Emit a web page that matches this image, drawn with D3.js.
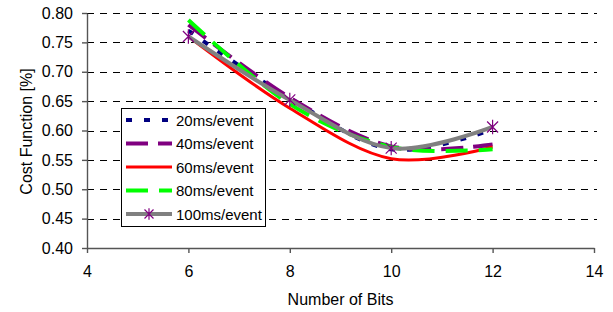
<!DOCTYPE html>
<meta charset="utf-8">
<head>
<style>
body { margin: 0; background: #fff; }
text { font: 16px "Liberation Sans", Arial, sans-serif; fill: #000; }
.grid line { stroke: #000; stroke-width: 1; stroke-dasharray: 7,6; }
.axis path, .axis line { stroke: #555; stroke-width: 1.4; }
.legend text { font-size: 15px; }
</style>
<script src="https://d3js.org/d3.v7.min.js"></script>
</head>
<body>
<svg width="613" height="312"></svg>
<script>

// chart values
var bits = [6, 8, 10, 12];
var seriesNames = ["20ms/event", "40ms/event", "60ms/event", "80ms/event", "100ms/event"];
var cost20 = [0.770, 0.655, 0.568, 0.602];
var cost40 = [0.780, 0.656, 0.573, 0.576];
var cost60 = [0.760, 0.638, 0.552, 0.572];
var cost80 = [0.788, 0.645, 0.572, 0.568];
var cost100 = [0.760, 0.652, 0.570, 0.606];
var xTicks = [4, 6, 8, 10, 12, 14];
var yTicks = [0.40, 0.45, 0.50, 0.55, 0.60, 0.65, 0.70, 0.75, 0.80];

var styles = [
  { color: "#000080", width: 4, dash: "6,12", marker: false },
  { color: "#800080", width: 4, dash: "22,10", marker: false },
  { color: "#ff0000", width: 3, dash: null, marker: false },
  { color: "#00ff00", width: 4, dash: "22,11", marker: false },
  { color: "#808080", width: 4, dash: null, marker: true }
];
var allValues = [cost20, cost40, cost60, cost80, cost100];
var series = seriesNames.map(function(n, i) {
  return { name: n, values: allValues[i], style: styles[i] };
});

var svg = d3.select("svg");
var x = d3.scaleLinear().domain([4, 14]).range([87, 594]);
var y = d3.scaleLinear().domain([0.40, 0.80]).range([248, 13]);

// horizontal dashed gridlines
svg.append("g").attr("class", "grid")
  .selectAll("line")
  .data(yTicks.slice(1))
  .enter().append("line")
    .attr("x1", x(4)).attr("x2", x(14) + 3)
    .attr("y1", function(d) { return Math.round(y(d)) + 0.5; })
    .attr("y2", function(d) { return Math.round(y(d)) + 0.5; });

var xAxis = svg.append("g").attr("class", "axis")
  .attr("transform", "translate(0," + y(0.40) + ")")
  .call(d3.axisBottom(x).tickValues(xTicks).tickSizeInner(5).tickSizeOuter(0).tickPadding(13)
    .tickFormat(d3.format("d")));
xAxis.selectAll("text").style("font-size", "16px").attr("fill", "#000");

var yAxis = svg.append("g").attr("class", "axis")
  .attr("transform", "translate(" + x(4) + ",0)")
  .call(d3.axisLeft(y).tickValues(yTicks).tickSizeInner(5).tickSizeOuter(0).tickPadding(9)
    .tickFormat(d3.format(".2f")));
yAxis.selectAll("text").style("font-size", "16px").attr("fill", "#000");

svg.append("text")
  .attr("x", (x(4) + x(14)) / 2 + 0).attr("y", 305)
  .attr("text-anchor", "middle")
  .text("Number of Bits");

svg.append("text")
  .attr("transform", "translate(32," + (y(0.60) + 1) + ") rotate(-90)")
  .attr("text-anchor", "middle")
  .text("Cost Function [%]");

var line = d3.line()
  .x(function(d, i) { return x(bits[i]); })
  .y(function(d) { return y(d); })
  .curve(d3.curveCardinal.tension(0));

svg.append("g").selectAll("path")
  .data(series)
  .enter().append("path")
    .attr("d", function(d) { return line(d.values); })
    .attr("fill", "none")
    .attr("stroke", function(d) { return d.style.color; })
    .attr("stroke-width", function(d) { return d.style.width; })
    .attr("stroke-dasharray", function(d) { return d.style.dash; });

// asterisk marker (x plus vertical bar)
function asterisk(r) {
  return "M" + (-r) + "," + (-r) + "L" + r + "," + r +
         "M" + (-r) + "," + r + "L" + r + "," + (-r) +
         "M0," + (-r * 1.3) + "L0," + (r * 1.3);
}

var marked = series.filter(function(d) { return d.style.marker; })[0];
svg.append("g").selectAll("path")
  .data(marked.values)
  .enter().append("path")
    .attr("transform", function(d, i) { return "translate(" + x(bits[i]) + "," + y(d) + ")"; })
    .attr("d", asterisk(5.5))
    .attr("stroke", "#800080")
    .attr("stroke-width", 1.2)
    .attr("fill", "none");

// legend
var legend = svg.append("g").attr("class", "legend").attr("transform", "translate(121,108)");
legend.append("rect")
  .attr("x", 0.5).attr("y", 0.5).attr("width", 144).attr("height", 118)
  .attr("fill", "#fff").attr("stroke", "#000").attr("stroke-width", 1);

var item = legend.selectAll("g.item")
  .data(series)
  .enter().append("g").attr("class", "item")
    .attr("transform", function(d, i) { return "translate(0," + (12 + i * 23.5) + ")"; });

item.append("line")
  .attr("x1", 5).attr("x2", 51).attr("y1", 0).attr("y2", 0)
  .attr("stroke", function(d) { return d.style.color; })
  .attr("stroke-width", function(d) { return d.style.width; })
  .attr("stroke-dasharray", function(d) { return d.style.dash; });

item.filter(function(d) { return d.style.marker; })
  .append("path")
    .attr("transform", "translate(28,0)")
    .attr("d", asterisk(4.5))
    .attr("stroke", "#800080").attr("stroke-width", 1.2).attr("fill", "none");

item.append("text")
  .attr("x", 55).attr("y", 5.5)
  .text(function(d) { return d.name; });

</script>
</body>
